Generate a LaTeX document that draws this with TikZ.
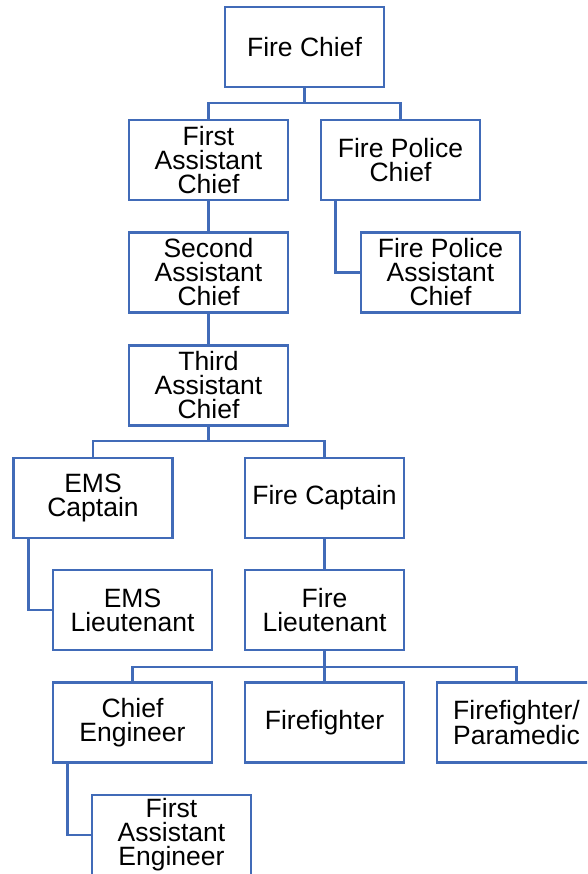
\documentclass[tikz,border=0pt]{standalone}
\usepackage{fontspec}
\setmainfont{Liberation Sans}
\begin{document}
\begin{tikzpicture}[x=1pt, y=-1pt,
		rank/.style={rectangle, draw=linkblue, line width=2.6pt, fill=white, minimum width=159pt, minimum height=80pt, inner sep=0pt, align=center, font=\fontsize{26.5}{24}\selectfont},
		link/.style={draw=linkblue, line width=2.6pt}]
		\definecolor{linkblue}{HTML}{416BB8}
		\useasboundingbox (0,0) rectangle (587,874);
		\clip (0,0) rectangle (587,874);

		\node[rank](chief) at (304.5,47){Fire Chief};
		\node[rank](firstAsst) at (208.5,160){First\\Assistant\\Chief};
		\node[rank](policeChief) at (400.5,160){Fire Police\\Chief};
		\node[rank](secondAsst) at (208.5,272.5){Second\\Assistant\\Chief};
		\node[rank](policeAsst) at (440.5,272.5){Fire Police\\Assistant\\Chief};
		\node[rank](thirdAsst) at (208.5,385.5){Third\\Assistant\\Chief};

		\node[rank](emsCapt) at (93,498){EMS\\Captain};
		\node[rank](fireCapt) at (324.5,498){Fire Captain};
		\node[rank](emsLt) at (132.5,610){EMS\\Lieutenant};
		\node[rank](fireLt) at (324.5,610){Fire\\Lieutenant};

		\node[rank](chiefEng) at (132.5,722.5){Chief\\Engineer};
		\node[rank](firefighter) at (324.5,722.5){Firefighter};
		\node[rank](ffParamedic) at (516.5,722.5){Firefighter/\\Paramedic};
		\node[rank](asstEng) at (171.5,835){First\\Assistant\\Engineer};

		\coordinate (bus1) at (304.5,103);
		\coordinate (bus2) at (208.5,441);
		\coordinate (bus3) at (324.5,667);

		\draw [link] (chief.south) -- (bus1) -| (firstAsst.north);
		\draw [link] (bus1) -| (policeChief.north);
		\draw [link] (firstAsst.south) -- (secondAsst.north);
		\draw [link] (secondAsst.south) -- (thirdAsst.north);
		\draw [link] ([xshift=16pt]policeChief.south west) |- (policeAsst.west);

		\draw [link] (thirdAsst.south) -- (bus2) -| (emsCapt.north);
		\draw [link] (bus2) -| (fireCapt.north);
		\draw [link] ([xshift=16pt]emsCapt.south west) |- (emsLt.west);
		\draw [link] (fireCapt.south) -- (fireLt.north);

		\draw [link] (fireLt.south) -- (bus3) -| (chiefEng.north);
		\draw [link] (bus3) -- (firefighter.north);
		\draw [link] (bus3) -| (ffParamedic.north);
		\draw [link] ([xshift=16pt]chiefEng.south west) |- (asstEng.west);

	\end{tikzpicture}
\end{document}
